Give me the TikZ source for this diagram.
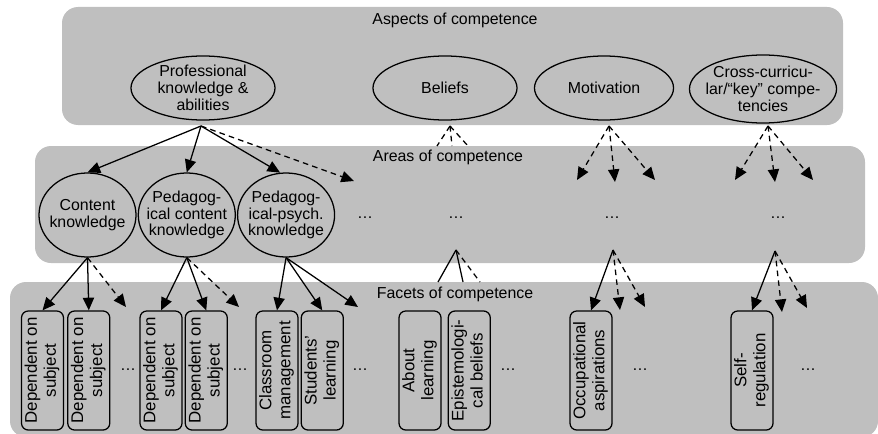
\documentclass[tikz,border=0pt]{standalone}
\usepackage{fontspec}
\setmainfont{Liberation Sans}
\usepackage{graphicx}
\usetikzlibrary{shapes.geometric, arrows.meta, positioning}
\definecolor{panelgray}{RGB}{191,191,191}
\newcommand{\vtext}[1]{\rotatebox{90}{\fontsize{12}{13.5}\selectfont\begin{tabular}{@{}c@{}}#1\end{tabular}}}
\tikzstyle{panel} =[fill=panelgray, draw=none, rounded corners=0.4cm]
\tikzstyle{aspect} =[ellipse, draw=black, line width=0.9pt, minimum width=3.6cm, minimum height=1.6cm, inner xsep=-7pt, inner ysep=-3pt, align=center]
\tikzstyle{area} =[ellipse, draw=black, line width=0.9pt, minimum width=2.425cm, minimum height=2.1cm, inner xsep=-5pt, inner ysep=0pt, align=center]
\tikzstyle{facet} =[rectangle, rounded corners=0.17cm, draw=black, line width=0.9pt, minimum width=1.05cm, minimum height=2.975cm, inner sep=0pt]
\tikzstyle{arrow} =[line width=0.9pt, -{Triangle[length=9pt, width=8pt]}]
\tikzstyle{dasharrow} =[arrow, dash pattern=on 4pt off 3pt]
\tikzstyle{dashline} =[line width=0.9pt, dash pattern=on 4pt off 3pt]

\begin{document}
\begin{tikzpicture}[x=0.025cm, y=-0.025cm, font=\fontsize{11.3}{12}\selectfont]
\useasboundingbox (0,0) rectangle (878,433);
% three levels
\fill [panel] (62,7) rectangle (843,125);
\fill [panel] (35,146) rectangle (865,263);
\fill [panel] (10,282) rectangle (878,437);
\node (aspects) at (455,20) {Aspects of competence};
\node (areas) at (448,157) {Areas of competence};
\node (facets) at (455,294) {Facets of competence};

% aspects
\node (prof) [aspect] at (203,88) {Professional\\knowledge \&\\abilities};
\node (beliefs) [aspect] at (445,88) {Beliefs};
\node (motiv) [aspect, minimum width=3.475cm] at (604,88) {Motivation};
\node (cross) [aspect, minimum width=3.675cm, minimum height=1.7cm] at (763,89) {Cross-curricu-\\lar/“key” compe-\\tencies};

% areas
\node (content) [area] at (87.5,215) {Content\\knowledge};
\node (pedcont) [area, right=0.025cm of content] {Pedagog-\\ical content\\knowledge};
\node (pedpsych) [area, right=0.025cm of pedcont] {Pedagog-\\ical-psych.\\knowledge};
\node (adots1) at (365,218) {\dots};
\node (adots2) at (456,218) {\dots};
\node (adots3) at (612,218) {\dots};
\node (adots4) at (778,218) {\dots};

% facets
\node (dep1) [facet] at (42.5,370.5) {\vtext{Dependent on\\subject}};
\node (dep2) [facet, right=0.075cm of dep1] {\vtext{Dependent on\\subject}};
\node (fdots1) at (128,370) {\dots};
\node (dep3) [facet] at (161,370.5) {\vtext{Dependent on\\subject}};
\node (dep4) [facet, right=0.05cm of dep3] {\vtext{Dependent on\\subject}};
\node (fdots2) at (240,370) {\dots};
\node (class) [facet] at (277,370.5) {\vtext{Classroom\\management}};
\node (stud) [facet, right=0.05cm of class] {\vtext{Students’\\learning}};
\node (fdots3) at (360,370) {\dots};
\node (about) [facet] at (420,370.5) {\vtext{About\\learning}};
\node (epist) [facet, right=0.15cm of about] {\vtext{Epistemologi-\\cal beliefs}};
\node (fdots4) at (508,370) {\dots};
\node (occup) [facet] at (591,370.5) {\vtext{Occupational\\aspirations}};
\node (fdots5) at (640,370) {\dots};
\node (selfreg) [facet] at (752,370.5) {\vtext{Self-\\regulation}};
\node (fdots6) at (808,370) {\dots};

% loose ends
\coordinate (profout) at (201,126);
\coordinate (profmore) at (354,181);
\coordinate (belout) at (450,126);
\coordinate (bel1) at (437,146);
\coordinate (bel2) at (452,146);
\coordinate (bel3) at (468,146);
\coordinate (motout) at (609,126);
\coordinate (mot1) at (577,180);
\coordinate (mot2) at (615,182);
\coordinate (mot3) at (655,180);
\coordinate (crossout) at (768,126);
\coordinate (cross1) at (735,180);
\coordinate (cross2) at (775,182);
\coordinate (cross3) at (813,180);
\coordinate (contmore) at (126,307);
\coordinate (pedmore) at (239,307);
\coordinate (psychmore) at (358,307);
\coordinate (bdout) at (456,250);
\coordinate (bd1) at (438,282);
\coordinate (bd2) at (463,282);
\coordinate (bd3) at (480,282);
\coordinate (mdout) at (613,250);
\coordinate (md2) at (620,310);
\coordinate (md3) at (645,307);
\coordinate (cdout) at (775,251);
\coordinate (cd2) at (782,312);
\coordinate (cd3) at (807,308);

% aspects to areas
\draw [arrow] (profout)--(content.north);
\draw [arrow] (profout)--(pedcont.north);
\draw [arrow] (profout)--(pedpsych.98);
\draw [dasharrow] (profout)--(profmore);
\draw [dashline] (belout)--(bel1);
\draw [dashline] (belout)--(bel2);
\draw [dashline] (belout)--(bel3);
\draw [dasharrow] (motout)--(mot1);
\draw [dasharrow] (motout)--(mot2);
\draw [dasharrow] (motout)--(mot3);
\draw [dasharrow] (crossout)--(cross1);
\draw [dasharrow] (crossout)--(cross2);
\draw [dasharrow] (crossout)--(cross3);

% areas to facets
\draw [arrow] (content.south)--(dep1.north);
\draw [arrow] (content.south)--(dep2.north);
\draw [dasharrow] (content.south)--(contmore);
\draw [arrow] (pedcont.south)--(dep3.north);
\draw [arrow] (pedcont.south)--(dep4.north);
\draw [dasharrow] (pedcont.south)--(pedmore);
\draw [arrow] (pedpsych.south)--(class.north);
\draw [arrow] (pedpsych.south)--(stud.north);
\draw [arrow] (pedpsych.south)--(psychmore);
\draw [line width=0.9pt] (bdout)--(bd1);
\draw [line width=0.9pt] (bdout)--(bd2);
\draw [dashline] (bdout)--(bd3);
\draw [arrow] (mdout)--(occup.north);
\draw [dasharrow] (mdout)--(md2);
\draw [dasharrow] (mdout)--(md3);
\draw [arrow] (cdout)--(selfreg.north);
\draw [dasharrow] (cdout)--(cd2);
\draw [dasharrow] (cdout)--(cd3);
\end{tikzpicture}
\end{document}
